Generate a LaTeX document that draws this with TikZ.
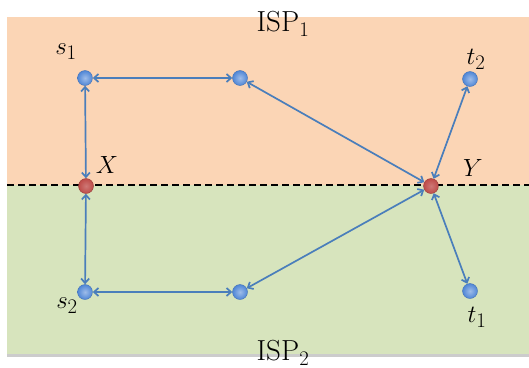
\documentclass[tikz,border=0pt]{standalone}
\usetikzlibrary{arrows.meta,shadings}
\definecolor{orng}{HTML}{FBD5B5}
\definecolor{grn}{HTML}{D7E4BD}
\definecolor{lnk}{HTML}{4A7EBB}
\definecolor{bnode}{HTML}{4F86D6}
\definecolor{rnode}{HTML}{BE4B48}
\tikzset{
  bdot/.style={circle,minimum size=15pt,inner sep=0pt,inner color=bnode!55!white,outer color=bnode,draw=bnode!85!black,line width=0.4pt},
  rdot/.style={circle,minimum size=15pt,inner sep=0pt,inner color=rnode!75!white,outer color=rnode,draw=rnode!80!black,line width=0.4pt},
  lnkline/.style={draw=lnk,line width=1.7pt,{Straight Barb[length=4.5pt,width=8pt]}-{Straight Barb[length=4.5pt,width=8pt]}},
  lbl/.style={inner sep=0pt,font=\fontsize{29}{34}\selectfont}
}
\begin{document}
\begin{tikzpicture}[x=1pt,y=-1pt]
\useasboundingbox (0,0) rectangle (529,367);
\fill[gray!40] (7,354) rectangle (529,357);
\fill[orng] (7,17) rectangle (529,185);
\fill[grn] (7,185) rectangle (529,354);
\draw[line width=1.6pt,dashed,dash pattern=on 7pt off 4pt] (7,185) -- (529,185);
\node[bdot] (s1) at (85,78) {};
\node[bdot] (m1) at (240,78) {};
\node[bdot] (t2) at (470,79) {};
\node[rdot] (X) at (86,186) {};
\node[rdot] (Y) at (431,186) {};
\node[bdot] (s2) at (85,292) {};
\node[bdot] (m2) at (240,292) {};
\node[bdot] (t1) at (470,291) {};
\draw[lnkline] (s1) -- (m1);
\draw[lnkline] (s1) -- (X);
\draw[lnkline] (X) -- (s2);
\draw[lnkline] (s2) -- (m2);
\draw[lnkline] (Y) -- (m1);
\draw[lnkline] (Y) -- (m2);
\draw[lnkline] (Y) -- (t2);
\draw[lnkline] (Y) -- (t1);
\node[lbl] (ISPa) at (283,24) {ISP$_1$};
\node[lbl] (ISPb) at (283,353) {ISP$_2$};
\node[lbl] (ls1) at (66,52) {$s_1$};
\node[lbl] (lt2) at (476,59) {$t_2$};
\node[lbl] (lX) at (107,165) {$X$};
\node[lbl] (lY) at (473,168) {$Y$};
\node[lbl] (ls2) at (67,306) {$s_2$};
\node[lbl] (lt1) at (477,317) {$t_1$};
\end{tikzpicture}
\end{document}
